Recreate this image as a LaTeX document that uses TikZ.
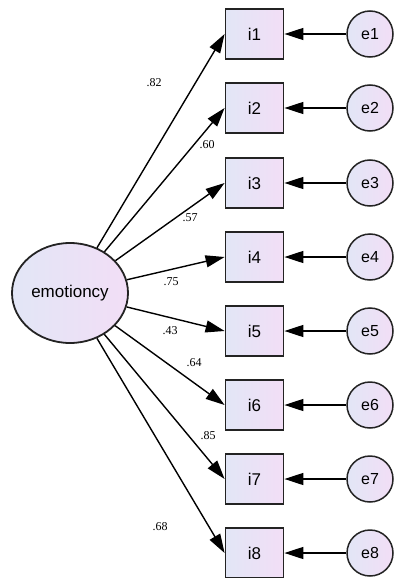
\documentclass[tikz,border=0pt]{standalone}
\usepackage{fontspec}
\setmainfont{Liberation Sans}
\newfontfamily\labfont{Liberation Serif}
\usetikzlibrary{arrows.meta,shapes.geometric}
\definecolor{lavL}{RGB}{226,230,246}
\definecolor{lavR}{RGB}{242,222,246}
\definecolor{edge}{RGB}{35,35,35}
\tikzset{
  obs/.style={draw=edge,line width=1.8pt,rectangle,minimum width=58pt,minimum height=50pt,inner sep=0pt,left color=lavL,right color=lavR,font=\fontsize{17}{17}\selectfont},
  err/.style={draw=edge,line width=1.5pt,circle,minimum size=46pt,inner sep=0pt,left color=lavL,right color=lavR,font=\fontsize{16}{16}\selectfont},
  lat/.style={draw=edge,line width=1.8pt,ellipse,minimum width=116pt,minimum height=100pt,inner sep=0pt,left color=lavL,right color=lavR,font=\fontsize{17}{17}\selectfont},
  path/.style={line width=1.4pt,-{Triangle[length=19pt,width=12pt]}},
  lab/.style={font=\labfont\fontsize{12}{12}\selectfont,inner sep=0pt}
}
\begin{document}
\begin{tikzpicture}[x=1pt,y=-1pt]
\useasboundingbox (0,0) rectangle (395,578);
\node[lat] (emo) at (70,293) {emotioncy};
\foreach \k/\y in {1/34,2/108,3/183,4/257,5/331,6/405,7/479,8/553}{
  \node[obs] (i\k) at (254.5,\y) {i\k};
  \node[err] (e\k) at (370,\y) {e\k};
  \draw[path] (e\k) -- (i\k);
  \draw[path] (emo) -- (i\k.west);
}
\node[lab] (l1) at (154,83) {.82};
\node[lab] (l2) at (207,145) {.60};
\node[lab] (l3) at (190,218) {.57};
\node[lab] (l4) at (171,282) {.75};
\node[lab] (l5) at (170,331) {.43};
\node[lab] (l6) at (194,363) {.64};
\node[lab] (l7) at (208,436) {.85};
\node[lab] (l8) at (160,527) {.68};
\end{tikzpicture}
\end{document}
